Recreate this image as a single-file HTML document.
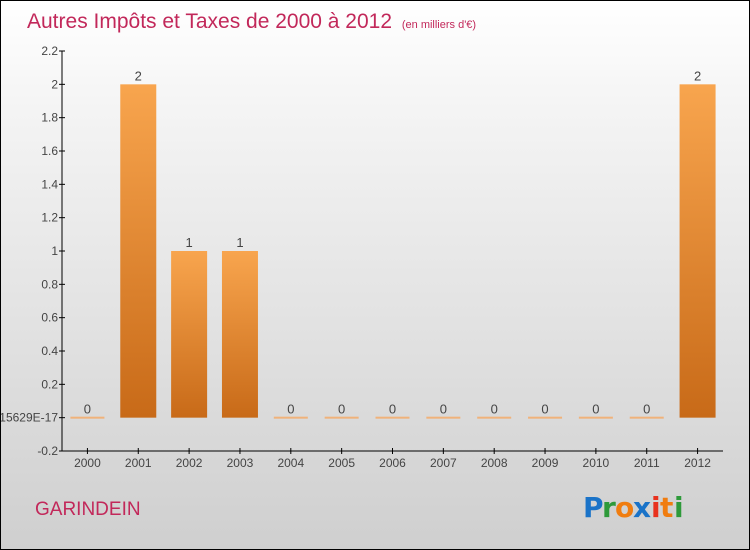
<!DOCTYPE html>
<html><head><meta charset="utf-8"><style>
body{margin:0;}
#wrap{position:relative;width:748px;height:548px;border:1px solid #000;background:linear-gradient(#ffffff,#f4f4f4 20%,#cfcfcf);overflow:hidden;font-family:"Liberation Sans",sans-serif;}
svg{position:absolute;left:0;top:0;}
</style></head><body>
<div id="wrap">
<svg id="chart" width="748" height="548">
<defs>
<linearGradient id="bg" x1="0" y1="0" x2="0" y2="1"><stop offset="0" stop-color="#f8a54e"/><stop offset="1" stop-color="#c86a18"/></linearGradient>
</defs>
<text x="26" y="27" font-size="21" fill="#c2285a">Autres Impôts et Taxes de 2000 à 2012 <tspan font-size="11" dx="4">(en milliers d'€)</tspan></text>
<text x="34" y="514" font-size="19" fill="#c2285a">GARINDEIN</text>
<g font-size="28" font-weight="bold" font-family="'DejaVu Sans',sans-serif">
<text x="582" y="516" fill="#1a73c8">P</text><text x="601" y="516" fill="#2e9a3a">r</text><text x="614" y="516" fill="#f07d10">o</text><text x="632" y="516" fill="#1a73c8">x</text><text x="650" y="516" fill="#e8321e">i</text><text x="659" y="516" fill="#f07d10">t</text><text x="673" y="516" fill="#2e9a3a">i</text>
</g>
<g id="axes"></g>
<g id="bars"></g>
</svg>
</div>
<script>
const categories=["2000","2001","2002","2003","2004","2005","2006","2007","2008","2009","2010","2011","2012"];
const values=[0,2,1,1,0,0,0,0,0,0,0,0,2];
const valueLabels=["0","2","1","1","0","0","0","0","0","0","0","0","2"];
const yTicks=[2.2,2,1.8,1.6,1.4,1.2,1,0.8,0.6,0.4,0.2,0,-0.2];
const yTickLabels=["2.2","2","1.8","1.6","1.4","1.2","1","0.8","0.6","0.4","0.2","-2.7755575615629E-17","-0.2"];
const NS="http://www.w3.org/2000/svg";
const yMin=-0.2,yMax=2.2,plotTop=50,plotBot=450,x0=61,x1=722;
const yS=v=>plotBot-(v-yMin)/(yMax-yMin)*(plotBot-plotTop);
const step=(x1-x0)/categories.length;
const xc=i=>x0+step*(i+0.5);
function mk(t,a,p){const e=document.createElementNS(NS,t);for(const k in a)e.setAttribute(k,a[k]);p.appendChild(e);return e;}
const ax=document.getElementById('axes'),bg=document.getElementById('bars');
let l=mk('line',{x1:x0,y1:plotTop,x2:x0,y2:plotBot,stroke:'#000'},ax);


l=mk('line',{x1:x0,y1:plotBot,x2:x1,y2:plotBot,stroke:'#000'},ax);


yTicks.forEach((v,i)=>{
 mk('line',{x1:x0-3,y1:yS(v),x2:x0+3,y2:yS(v),stroke:'#000'},ax);
 const t=mk('text',{x:x0-4,y:yS(v)+4,'font-size':12,fill:'#444','text-anchor':'end'},ax);
 t.textContent=yTickLabels[i];
 
 
});
categories.forEach((c,i)=>{
 mk('line',{x1:xc(i),y1:plotBot-3,x2:xc(i),y2:plotBot+3,stroke:'#000'},ax);
 const t=mk('text',{x:xc(i),y:plotBot+16,'font-size':12,fill:'#444','text-anchor':'middle'},ax);
 t.textContent=c;
 
 
 const v=values[i],bw=36;
 let r;
 if(v===0){r=mk('rect',{x:xc(i)-17,y:yS(0)-1,width:34,height:2,fill:'#f0b27a'},bg);}
 else{r=mk('rect',{x:xc(i)-bw/2,y:yS(v),width:bw,height:yS(0)-yS(v),fill:'url(#bg)'},bg);}
 
 
 const vl=mk('text',{x:xc(i),y:yS(v)-4,'font-size':13,fill:'#444','text-anchor':'middle'},bg);
 vl.textContent=valueLabels[i];
 
 
});
</script>
</body></html>
